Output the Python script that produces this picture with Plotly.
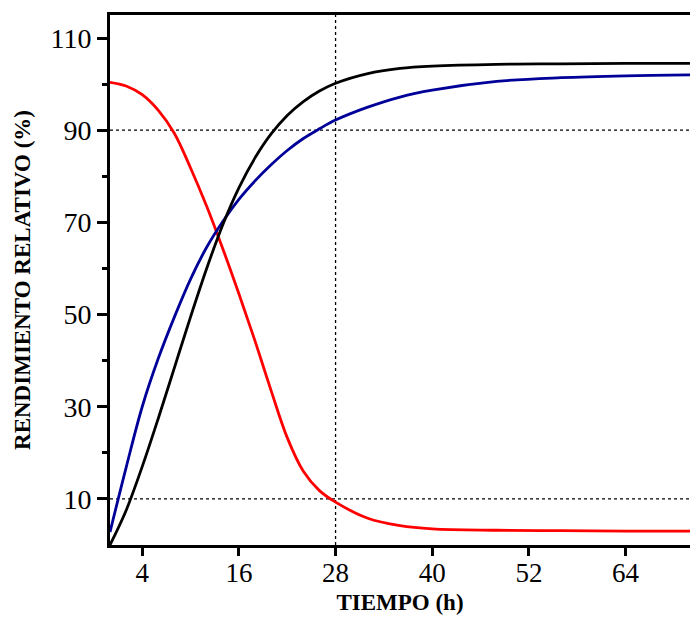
import plotly.graph_objects as go

tiempo = [0, 2, 4, 6, 8, 10, 12, 14, 16, 18, 20, 22, 24, 26, 28, 32, 36, 40, 48, 56, 64, 72]
serie_negra = [0, 7.5, 17, 27.5, 38.5, 49.5, 60, 69.5, 77.5, 84, 89.2, 93.2, 96.2, 98.5, 100.2, 102.3, 103.4, 103.9, 104.3, 104.4, 104.5, 104.5]
serie_azul = [2.8, 16.8, 30, 40.5, 49.5, 57.7, 64.6, 70.2, 75, 79, 82.5, 85.6, 88.2, 90.3, 92.2, 95, 97.2, 98.7, 100.6, 101.4, 101.8, 102]
serie_roja = [100.4, 99.6, 97.7, 94.3, 89.3, 81.8, 73.5, 64.3, 54.5, 44.3, 33.5, 23.3, 16.0, 11.8, 9.3, 5.8, 4.2, 3.5, 3.2, 3.1, 3.0, 3.0]

x_ticks = [4, 16, 28, 40, 52, 64]
y_ticks = [10, 30, 50, 70, 90, 110]
y_minor = [20, 40, 60, 80, 100]

SERIF = "Times New Roman, Liberation Serif, Times, serif"

fig = go.Figure()
for ys, col in [(serie_roja, "#FF0000"), (serie_azul, "#000099"), (serie_negra, "#000000")]:
    fig.add_trace(go.Scatter(x=tiempo, y=ys, mode="lines",
                             line=dict(color=col, width=2.8, shape="spline", smoothing=1.0),
                             showlegend=False, hoverinfo="skip"))

for yv in [90, 10]:
    fig.add_shape(type="line", x0=0, x1=72, y0=yv, y1=yv, xref="x", yref="y",
                  line=dict(color="black", width=1.3, dash="dot"), layer="below")
fig.add_shape(type="line", x0=28, x1=28, y0=0, y1=115, xref="x", yref="y",
              line=dict(color="black", width=1.3, dash="dot"), layer="below")

fig.update_layout(
    width=690, height=617,
    margin=dict(l=110, r=0, t=15, b=72),
    paper_bgcolor="white", plot_bgcolor="white",
    font=dict(family=SERIF, color="black"),
)
fig.update_xaxes(range=[0, 72], tickvals=x_ticks, ticktext=[str(v) for v in x_ticks],
                 automargin=False,
                 showgrid=False, zeroline=False, showline=True, linecolor="black", linewidth=3,
                 mirror=True, ticks="outside", ticklen=8, tickwidth=3, tickcolor="black",
                 tickfont=dict(size=27, family=SERIF), ticklabelstandoff=-6,
                 title=dict(text="TIEMPO (h)", font=dict(size=23, family=SERIF, weight="bold"), standoff=7))
fig.update_yaxes(range=[0, 115], tickvals=y_ticks, ticktext=[str(v) for v in y_ticks],
                 automargin=False,
                 showgrid=False, zeroline=False, showline=True, linecolor="black", linewidth=3,
                 ticks="outside", ticklen=10, tickwidth=3, tickcolor="black",
                 tickfont=dict(size=28, family=SERIF),
                 minor=dict(tickvals=y_minor, ticks="outside", ticklen=5, tickwidth=3, tickcolor="black", showgrid=False),
                 title=dict(text="RENDIMIENTO RELATIVO (%)", font=dict(size=23, family=SERIF, weight="bold"), standoff=14))

fig.write_html("out.html", config={"displayModeBar": False},
               post_script="document.body.style.margin='0';document.body.style.padding='0';document.body.style.overflow='hidden';")
